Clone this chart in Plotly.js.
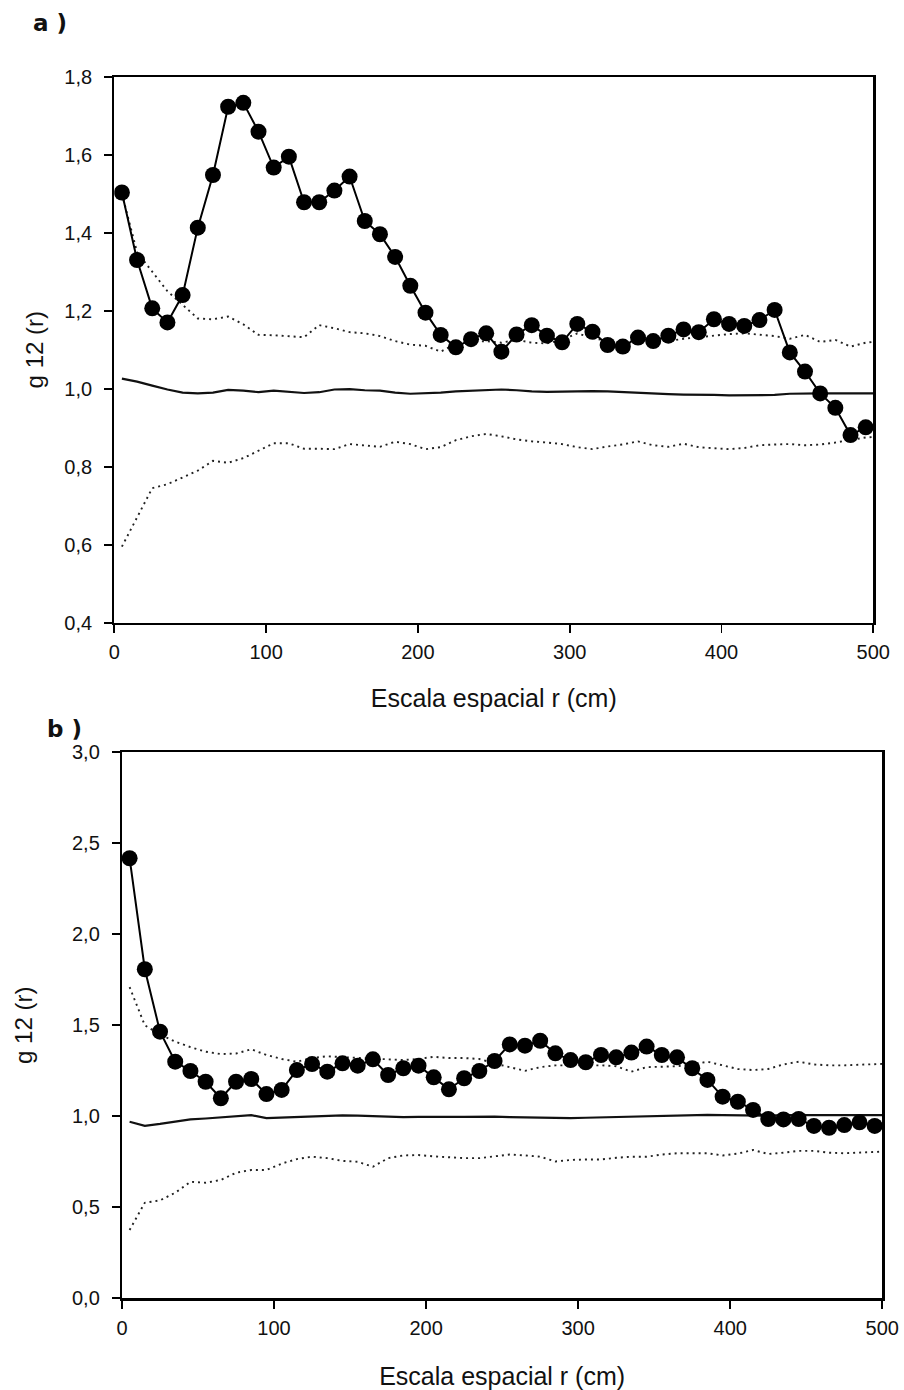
<!DOCTYPE html>
<html>
<head>
<meta charset="utf-8">
<script src="https://cdn.plot.ly/plotly-3.0.1.min.js"></script>
<style>html,body{margin:0;padding:0;background:#fff}#chart{width:904px;height:1390px}</style>
</head>
<body>
<div id="chart"></div>
<script>
// Observed distance classes (cm)
var rObs = [5,15,25,35,45,55,65,75,85,95,105,115,125,135,145,155,165,175,185,195,205,215,225,235,245,255,265,275,285,295,305,315,325,335,345,355,365,375,385,395,405,415,425,435,445,455,465,475,485,495];
// Envelope distance classes (cm)
var rEnv = [5,15,25,35,45,55,65,75,85,95,105,115,125,135,145,155,165,175,185,195,205,215,225,235,245,255,265,275,285,295,305,315,325,335,345,355,365,375,385,395,405,415,425,435,445,455,465,475,485,495,500];

// Panel a
var obsA = [1.503,1.330,1.206,1.170,1.240,1.413,1.548,1.723,1.733,1.659,1.567,1.595,1.478,1.478,1.508,1.544,1.430,1.396,1.338,1.264,1.195,1.138,1.106,1.127,1.142,1.095,1.139,1.163,1.136,1.119,1.166,1.146,1.112,1.108,1.131,1.122,1.136,1.152,1.145,1.178,1.166,1.161,1.176,1.202,1.093,1.044,0.988,0.951,0.881,0.901];
var upA = [1.50,1.35,1.30,1.25,1.215,1.18,1.178,1.185,1.165,1.138,1.137,1.135,1.132,1.163,1.155,1.145,1.142,1.135,1.122,1.113,1.11,1.095,1.115,1.12,1.122,1.118,1.125,1.118,1.116,1.125,1.142,1.13,1.122,1.118,1.116,1.12,1.122,1.128,1.132,1.135,1.14,1.142,1.138,1.135,1.128,1.138,1.12,1.125,1.108,1.118,1.12];
var loA = [0.595,0.67,0.745,0.755,0.772,0.79,0.815,0.81,0.822,0.842,0.86,0.86,0.846,0.846,0.845,0.858,0.855,0.851,0.864,0.858,0.845,0.85,0.868,0.878,0.884,0.878,0.87,0.865,0.862,0.858,0.85,0.845,0.852,0.857,0.865,0.855,0.851,0.859,0.85,0.847,0.845,0.848,0.855,0.857,0.858,0.855,0.857,0.862,0.868,0.875,0.876];
var midA = [1.026,1.018,1.008,0.998,0.99,0.988,0.99,0.997,0.995,0.991,0.995,0.992,0.989,0.991,0.998,0.999,0.996,0.995,0.99,0.987,0.988,0.99,0.993,0.995,0.997,0.998,0.996,0.993,0.992,0.993,0.994,0.994,0.993,0.991,0.99,0.988,0.986,0.985,0.985,0.984,0.983,0.983,0.983,0.984,0.987,0.988,0.988,0.988,0.988,0.988,0.988];

// Panel b
var obsB = [2.418,1.808,1.465,1.300,1.249,1.190,1.099,1.190,1.205,1.122,1.145,1.254,1.287,1.245,1.291,1.278,1.313,1.227,1.264,1.278,1.214,1.148,1.209,1.249,1.304,1.395,1.388,1.415,1.346,1.309,1.297,1.337,1.324,1.350,1.383,1.337,1.324,1.264,1.200,1.108,1.080,1.035,0.985,0.983,0.985,0.947,0.937,0.952,0.967,0.947];
var upB = [1.71,1.50,1.45,1.41,1.38,1.355,1.342,1.345,1.368,1.337,1.315,1.30,1.32,1.33,1.325,1.32,1.318,1.312,1.309,1.315,1.327,1.32,1.32,1.315,1.29,1.27,1.25,1.27,1.28,1.28,1.28,1.28,1.275,1.245,1.27,1.273,1.275,1.285,1.30,1.28,1.26,1.254,1.26,1.285,1.30,1.285,1.28,1.28,1.282,1.285,1.288];
var loB = [0.375,0.525,0.538,0.58,0.64,0.635,0.65,0.69,0.705,0.705,0.74,0.765,0.778,0.77,0.755,0.75,0.723,0.77,0.785,0.787,0.78,0.775,0.77,0.77,0.778,0.79,0.785,0.778,0.752,0.76,0.763,0.763,0.772,0.778,0.778,0.79,0.797,0.797,0.797,0.785,0.795,0.815,0.793,0.8,0.81,0.81,0.8,0.797,0.8,0.805,0.806];
var midB = [0.97,0.948,0.958,0.972,0.983,0.988,0.995,1.0,1.006,0.99,0.993,0.997,1.0,1.002,1.005,1.004,1.0,0.998,0.995,0.997,0.995,0.997,0.997,0.998,0.998,0.996,0.994,0.992,0.99,0.99,0.992,0.994,0.996,0.998,1.0,1.002,1.004,1.006,1.008,1.006,1.004,1.004,1.004,1.006,1.006,1.006,1.006,1.006,1.006,1.006,1.006];

var xTitle = 'Escala espacial r (cm)';
var yTitle = 'g 12 (r)';

var FONT = "'Liberation Sans', Arial, sans-serif";
var dotLine = {color:'#222', width:1.9, dash:'2px,4px'};
var midLine = {color:'#111', width:2.2};
function obsTrace(y, xa, ya){
  return {x:rObs, y:y, xaxis:xa, yaxis:ya, type:'scatter', mode:'lines+markers',
    line:{color:'#000', width:2}, marker:{color:'#000', size:16}, hoverinfo:'x+y'};
}
function envTrace(y, xa, ya, line){
  return {x:rEnv, y:y, xaxis:xa, yaxis:ya, type:'scatter', mode:'lines', line:line, hoverinfo:'x+y'};
}

var data = [
  envTrace(upA,'x','y',dotLine), envTrace(loA,'x','y',dotLine), envTrace(midA,'x','y',midLine), obsTrace(obsA,'x','y'),
  envTrace(upB,'x2','y2',dotLine), envTrace(loB,'x2','y2',dotLine), envTrace(midB,'x2','y2',midLine), obsTrace(obsB,'x2','y2')
];

var tickFont = {family:FONT, size:20, color:'#111'};
function axisBase(){
  return {showline:true, linecolor:'#000', linewidth:2.2, mirror:true, ticks:'outside', ticklen:8, tickwidth:1.8,
    tickcolor:'#000', showgrid:false, zeroline:false, tickfont:tickFont, fixedrange:true, ticklabelstandoff:8};
}
var W = 904, H = 1390;
var xa1 = axisBase(); Object.assign(xa1, {domain:[114.3/W, 873.3/W], range:[0,500], dtick:100, anchor:'y', ticklabelstandoff:2,
  title:{text:xTitle, font:{family:FONT, size:25, color:'#111'}, standoff:28}});
var ya1 = axisBase(); Object.assign(ya1, {domain:[1-622.7/H, 1-76.7/H], range:[0.4,1.8], dtick:0.2, tickformat:'.1f', anchor:'x',
  title:{text:yTitle, font:{family:FONT, size:24, color:'#111'}, standoff:14}});
var xa2 = axisBase(); Object.assign(xa2, {domain:[122/W, 882.3/W], range:[0,500], dtick:100, anchor:'y2', ticklabelstandoff:2,
  title:{text:xTitle, font:{family:FONT, size:25, color:'#111'}, standoff:31}});
var ya2 = axisBase(); Object.assign(ya2, {domain:[1-1298.3/H, 1-752.3/H], range:[0,3], dtick:0.5, tickformat:'.1f', anchor:'x2',
  title:{text:yTitle, font:{family:FONT, size:24, color:'#111'}, standoff:33}});

var layout = {
  width:W, height:H, margin:{l:0, r:0, t:0, b:0}, paper_bgcolor:'#fff', plot_bgcolor:'#fff',
  showlegend:false, separators:',.',
  xaxis:xa1, yaxis:ya1, xaxis2:xa2, yaxis2:ya2,
  annotations:[
    {text:'<b>a )</b>', xref:'paper', yref:'paper', x:31/W, y:1-23/H, xanchor:'left', yanchor:'middle', showarrow:false,
      font:{family:'DejaVu Sans, sans-serif', size:23, color:'#111'}},
    {text:'<b>b )</b>', xref:'paper', yref:'paper', x:45/W, y:1-729/H, xanchor:'left', yanchor:'middle', showarrow:false,
      font:{family:'DejaVu Sans, sans-serif', size:23, color:'#111'}}
  ]
};
Plotly.newPlot('chart', data, layout, {displayModeBar:false, staticPlot:true});
</script>
</body>
</html>
